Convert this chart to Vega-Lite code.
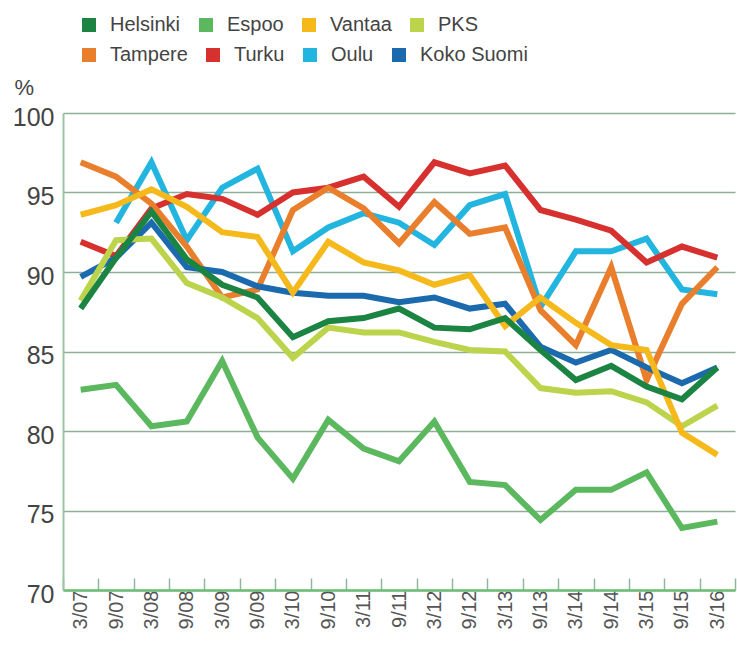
{
  "$schema": "https://vega.github.io/schema/vega-lite/v6.json",
  "width": 672,
  "height": 477,
  "autosize": {"type": "none"},
  "padding": {"left": 63, "top": 113, "right": 2, "bottom": 65},
  "background": "white",
  "config": {"view": {"stroke": null}, "font": "Liberation Sans",
    "legend": {"title": null, "orient": "none", "legendX": 16, "direction": "horizontal",
      "columnPadding": 0, "padding": 0,
      "symbolType": "square", "symbolSize": 4, "symbolStrokeWidth": 12, "symbolStrokeJoin": "miter",
      "labelFontSize": 20, "labelColor": "#444444", "labelOffset": 11}},
  "data": {"values": [
    {"c":"Oulu","t":"9/07","v":93.1},{"c":"Oulu","t":"3/08","v":96.9},{"c":"Oulu","t":"9/08","v":92.0},{"c":"Oulu","t":"3/09","v":95.3},{"c":"Oulu","t":"9/09","v":96.5},{"c":"Oulu","t":"3/10","v":91.3},{"c":"Oulu","t":"9/10","v":92.8},{"c":"Oulu","t":"3/11","v":93.7},{"c":"Oulu","t":"9/11","v":93.1},{"c":"Oulu","t":"3/12","v":91.7},{"c":"Oulu","t":"9/12","v":94.2},{"c":"Oulu","t":"3/13","v":94.9},{"c":"Oulu","t":"9/13","v":87.8},{"c":"Oulu","t":"3/14","v":91.3},{"c":"Oulu","t":"9/14","v":91.3},{"c":"Oulu","t":"3/15","v":92.1},{"c":"Oulu","t":"9/15","v":88.9},{"c":"Oulu","t":"3/16","v":88.6},
    {"c":"Turku","t":"3/07","v":91.9},{"c":"Turku","t":"9/07","v":91.0},{"c":"Turku","t":"3/08","v":94.0},{"c":"Turku","t":"9/08","v":94.9},{"c":"Turku","t":"3/09","v":94.6},{"c":"Turku","t":"9/09","v":93.6},{"c":"Turku","t":"3/10","v":95.0},{"c":"Turku","t":"9/10","v":95.3},{"c":"Turku","t":"3/11","v":96.0},{"c":"Turku","t":"9/11","v":94.1},{"c":"Turku","t":"3/12","v":96.9},{"c":"Turku","t":"9/12","v":96.2},{"c":"Turku","t":"3/13","v":96.7},{"c":"Turku","t":"9/13","v":93.9},{"c":"Turku","t":"3/14","v":93.3},{"c":"Turku","t":"9/14","v":92.6},{"c":"Turku","t":"3/15","v":90.6},{"c":"Turku","t":"9/15","v":91.6},{"c":"Turku","t":"3/16","v":90.9},
    {"c":"Tampere","t":"3/07","v":96.9},{"c":"Tampere","t":"9/07","v":96.0},{"c":"Tampere","t":"3/08","v":94.3},{"c":"Tampere","t":"9/08","v":91.6},{"c":"Tampere","t":"3/09","v":88.4},{"c":"Tampere","t":"9/09","v":88.9},{"c":"Tampere","t":"3/10","v":93.9},{"c":"Tampere","t":"9/10","v":95.3},{"c":"Tampere","t":"3/11","v":94.0},{"c":"Tampere","t":"9/11","v":91.8},{"c":"Tampere","t":"3/12","v":94.4},{"c":"Tampere","t":"9/12","v":92.4},{"c":"Tampere","t":"3/13","v":92.8},{"c":"Tampere","t":"9/13","v":87.6},{"c":"Tampere","t":"3/14","v":85.4},{"c":"Tampere","t":"9/14","v":90.3},{"c":"Tampere","t":"3/15","v":83.2},{"c":"Tampere","t":"9/15","v":88.0},{"c":"Tampere","t":"3/16","v":90.3},
    {"c":"Koko Suomi","t":"3/07","v":89.7},{"c":"Koko Suomi","t":"9/07","v":90.9},{"c":"Koko Suomi","t":"3/08","v":93.1},{"c":"Koko Suomi","t":"9/08","v":90.3},{"c":"Koko Suomi","t":"3/09","v":90.0},{"c":"Koko Suomi","t":"9/09","v":89.1},{"c":"Koko Suomi","t":"3/10","v":88.7},{"c":"Koko Suomi","t":"9/10","v":88.5},{"c":"Koko Suomi","t":"3/11","v":88.5},{"c":"Koko Suomi","t":"9/11","v":88.1},{"c":"Koko Suomi","t":"3/12","v":88.4},{"c":"Koko Suomi","t":"9/12","v":87.7},{"c":"Koko Suomi","t":"3/13","v":88.0},{"c":"Koko Suomi","t":"9/13","v":85.3},{"c":"Koko Suomi","t":"3/14","v":84.3},{"c":"Koko Suomi","t":"9/14","v":85.1},{"c":"Koko Suomi","t":"3/15","v":84.0},{"c":"Koko Suomi","t":"9/15","v":83.0},{"c":"Koko Suomi","t":"3/16","v":84.0},
    {"c":"PKS","t":"3/07","v":88.2},{"c":"PKS","t":"9/07","v":92.0},{"c":"PKS","t":"3/08","v":92.1},{"c":"PKS","t":"9/08","v":89.3},{"c":"PKS","t":"3/09","v":88.4},{"c":"PKS","t":"9/09","v":87.1},{"c":"PKS","t":"3/10","v":84.6},{"c":"PKS","t":"9/10","v":86.5},{"c":"PKS","t":"3/11","v":86.2},{"c":"PKS","t":"9/11","v":86.2},{"c":"PKS","t":"3/12","v":85.6},{"c":"PKS","t":"9/12","v":85.1},{"c":"PKS","t":"3/13","v":85.0},{"c":"PKS","t":"9/13","v":82.7},{"c":"PKS","t":"3/14","v":82.4},{"c":"PKS","t":"9/14","v":82.5},{"c":"PKS","t":"3/15","v":81.8},{"c":"PKS","t":"9/15","v":80.3},{"c":"PKS","t":"3/16","v":81.6},
    {"c":"Vantaa","t":"3/07","v":93.6},{"c":"Vantaa","t":"9/07","v":94.2},{"c":"Vantaa","t":"3/08","v":95.2},{"c":"Vantaa","t":"9/08","v":94.1},{"c":"Vantaa","t":"3/09","v":92.5},{"c":"Vantaa","t":"9/09","v":92.2},{"c":"Vantaa","t":"3/10","v":88.7},{"c":"Vantaa","t":"9/10","v":91.9},{"c":"Vantaa","t":"3/11","v":90.6},{"c":"Vantaa","t":"9/11","v":90.1},{"c":"Vantaa","t":"3/12","v":89.2},{"c":"Vantaa","t":"9/12","v":89.8},{"c":"Vantaa","t":"3/13","v":86.6},{"c":"Vantaa","t":"9/13","v":88.4},{"c":"Vantaa","t":"3/14","v":86.8},{"c":"Vantaa","t":"9/14","v":85.4},{"c":"Vantaa","t":"3/15","v":85.1},{"c":"Vantaa","t":"9/15","v":79.9},{"c":"Vantaa","t":"3/16","v":78.5},
    {"c":"Espoo","t":"3/07","v":82.6},{"c":"Espoo","t":"9/07","v":82.9},{"c":"Espoo","t":"3/08","v":80.3},{"c":"Espoo","t":"9/08","v":80.6},{"c":"Espoo","t":"3/09","v":84.4},{"c":"Espoo","t":"9/09","v":79.6},{"c":"Espoo","t":"3/10","v":77.0},{"c":"Espoo","t":"9/10","v":80.7},{"c":"Espoo","t":"3/11","v":78.9},{"c":"Espoo","t":"9/11","v":78.1},{"c":"Espoo","t":"3/12","v":80.6},{"c":"Espoo","t":"9/12","v":76.8},{"c":"Espoo","t":"3/13","v":76.6},{"c":"Espoo","t":"9/13","v":74.4},{"c":"Espoo","t":"3/14","v":76.3},{"c":"Espoo","t":"9/14","v":76.3},{"c":"Espoo","t":"3/15","v":77.4},{"c":"Espoo","t":"9/15","v":73.9},{"c":"Espoo","t":"3/16","v":74.3},
    {"c":"Helsinki","t":"3/07","v":87.7},{"c":"Helsinki","t":"9/07","v":90.9},{"c":"Helsinki","t":"3/08","v":93.8},{"c":"Helsinki","t":"9/08","v":90.8},{"c":"Helsinki","t":"3/09","v":89.2},{"c":"Helsinki","t":"9/09","v":88.4},{"c":"Helsinki","t":"3/10","v":85.9},{"c":"Helsinki","t":"9/10","v":86.9},{"c":"Helsinki","t":"3/11","v":87.1},{"c":"Helsinki","t":"9/11","v":87.7},{"c":"Helsinki","t":"3/12","v":86.5},{"c":"Helsinki","t":"9/12","v":86.4},{"c":"Helsinki","t":"3/13","v":87.1},{"c":"Helsinki","t":"9/13","v":85.1},{"c":"Helsinki","t":"3/14","v":83.2},{"c":"Helsinki","t":"9/14","v":84.1},{"c":"Helsinki","t":"3/15","v":82.8},{"c":"Helsinki","t":"9/15","v":82.0},{"c":"Helsinki","t":"3/16","v":84.0}
  ]},
  "encoding": {
    "x": {
      "field": "t", "type": "ordinal", "bandPosition": 0.5,
      "sort": ["3/07","9/07","3/08","9/08","3/09","9/09","3/10","9/10","3/11","9/11","3/12","9/12","3/13","9/13","3/14","9/14","3/15","9/15","3/16"],
      "scale": {"type": "band", "paddingInner": 0, "paddingOuter": 0},
      "axis": {
        "title": null, "labelAngle": -90, "labelFontSize": 20, "labelColor": "#555555",
        "labelPadding": 12, "tickBand": "extent", "tickSize": -12, "tickColor": "#8fb89b", "tickWidth": 1.5,
        "domainColor": "#6dbd75", "domainWidth": 2.5, "grid": false
      }
    },
    "y": {
      "field": "v", "type": "quantitative",
      "scale": {"domain": [70, 100], "nice": false, "zero": false},
      "axis": {
        "values": [70, 75, 80, 85, 90, 95, 100], "grid": true, "gridColor": "#8fae97", "gridWidth": 1.5,
        "domainColor": "#9cc3a4", "domainWidth": 2, "ticks": false,
        "labelFontSize": 25, "labelColor": "#444444", "labelPadding": 9, "labelOffset": 4,
        "title": "%", "titleAngle": 0, "titleAlign": "left", "titleBaseline": "alphabetic",
        "titleX": -49, "titleY": -19, "titleFontSize": 22, "titleFontWeight": "normal", "titleColor": "#444444"
      }
    }
  },
  "layer": [
    {
      "transform": [{"filter": {"field": "c", "oneOf": ["Tampere", "Turku", "Oulu", "Koko Suomi"]}}],
      "mark": {"type": "line", "strokeWidth": 6, "strokeJoin": "miter", "strokeCap": "butt"},
      "encoding": {
        "color": {
          "field": "c", "type": "nominal",
          "scale": {"domain": ["Tampere", "Turku", "Oulu", "Koko Suomi"], "range": ["#e97f2d", "#d7312f", "#22b5df", "#1c6aae"]},
          "legend": {"legendY": -68}
        }
      }
    },
    {
      "transform": [{"filter": {"field": "c", "oneOf": ["Helsinki", "Espoo", "Vantaa", "PKS"]}}],
      "mark": {"type": "line", "strokeWidth": 6, "strokeJoin": "miter", "strokeCap": "butt"},
      "encoding": {
        "color": {
          "field": "c", "type": "nominal",
          "scale": {"domain": ["Helsinki", "Espoo", "Vantaa", "PKS"], "range": ["#1b8443", "#5cb85f", "#f6b91c", "#bcd34c"]},
          "legend": {"legendY": -98}
        }
      }
    }
  ],
  "resolve": {"scale": {"color": "independent"}}
}
